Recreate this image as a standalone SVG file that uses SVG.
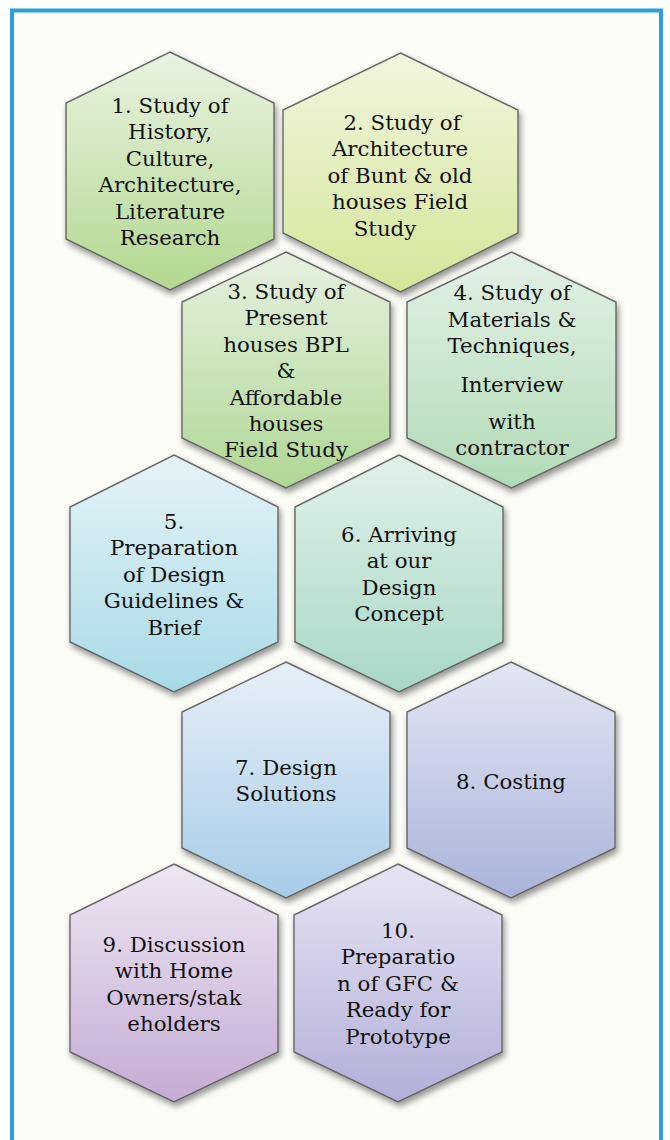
<svg xmlns="http://www.w3.org/2000/svg" width="670" height="1140" viewBox="0 0 670 1140">
<style>
.hex{stroke:#666666;stroke-width:1.4;filter:url(#sh)}
.t{font-family:"DejaVu Serif","Liberation Serif",serif;font-size:21.3px;fill:#111111;text-anchor:middle}
</style>
<defs>
<filter id="sh" x="-10%" y="-10%" width="125%" height="125%"><feDropShadow dx="2" dy="4" stdDeviation="3" flood-color="#000" flood-opacity="0.42"/></filter>
<linearGradient id="g1" x1="0" y1="0" x2="0" y2="1"><stop offset="0" stop-color="#e9f3e1"/><stop offset="1" stop-color="#b3d88f"/></linearGradient>
<linearGradient id="g2" x1="0" y1="0" x2="0" y2="1"><stop offset="0" stop-color="#f1f6dd"/><stop offset="1" stop-color="#d5e69a"/></linearGradient>
<linearGradient id="g3" x1="0" y1="0" x2="0" y2="1"><stop offset="0" stop-color="#e6f1df"/><stop offset="1" stop-color="#b0d795"/></linearGradient>
<linearGradient id="g4" x1="0" y1="0" x2="0" y2="1"><stop offset="0" stop-color="#e3f1e6"/><stop offset="1" stop-color="#b2dbb7"/></linearGradient>
<linearGradient id="g5" x1="0" y1="0" x2="0" y2="1"><stop offset="0" stop-color="#e6f3f8"/><stop offset="1" stop-color="#a7dae6"/></linearGradient>
<linearGradient id="g6" x1="0" y1="0" x2="0" y2="1"><stop offset="0" stop-color="#e1f1eb"/><stop offset="1" stop-color="#a8d8c5"/></linearGradient>
<linearGradient id="g7" x1="0" y1="0" x2="0" y2="1"><stop offset="0" stop-color="#e7eff8"/><stop offset="1" stop-color="#a7cce8"/></linearGradient>
<linearGradient id="g8" x1="0" y1="0" x2="0" y2="1"><stop offset="0" stop-color="#e4e6f3"/><stop offset="1" stop-color="#a9b4db"/></linearGradient>
<linearGradient id="g9" x1="0" y1="0" x2="0" y2="1"><stop offset="0" stop-color="#eee6f2"/><stop offset="1" stop-color="#c4acd5"/></linearGradient>
<linearGradient id="g10" x1="0" y1="0" x2="0" y2="1"><stop offset="0" stop-color="#e7e5f3"/><stop offset="1" stop-color="#b2afd9"/></linearGradient>
</defs>
<rect x="0" y="0" width="670" height="1140" fill="#ffffff"/>
<rect x="12" y="10.5" width="649" height="1200" fill="#fdfdf8" stroke="#2ba0dd" stroke-width="4"/>
<g id="connectors"></g>
<g id="node1">
<polygon class="hex" fill="url(#g1)" points="170,52 274,103 274,239 170,290 66,239 66,103"/>
<text class="t" x="170" y="113">1. Study of</text>
<text class="t" x="170" y="139.4">History,</text>
<text class="t" x="170" y="165.8">Culture,</text>
<text class="t" x="170" y="192.2">Architecture,</text>
<text class="t" x="170" y="218.6">Literature</text>
<text class="t" x="170" y="245">Research</text>
</g>
<g id="node2">
<polygon class="hex" fill="url(#g2)" points="400.5,53 518,110 518,233 400.5,292 283,233 283,110"/>
<text class="t" x="402" y="130">2. Study of</text>
<text class="t" x="400" y="156.4">Architecture</text>
<text class="t" x="400" y="182.8">of Bunt &amp; old</text>
<text class="t" x="400" y="209.2">houses Field</text>
<text class="t" x="385" y="235.6">Study</text>
</g>
<g id="node3">
<polygon class="hex" fill="url(#g3)" points="286,252 390,302 390,438 286,488 182,438 182,302"/>
<text class="t" x="286" y="299">3. Study of</text>
<text class="t" x="286" y="325.4">Present</text>
<text class="t" x="286" y="351.8">houses BPL</text>
<text class="t" x="286" y="378.2">&amp;</text>
<text class="t" x="286" y="404.6">Affordable</text>
<text class="t" x="286" y="431">houses</text>
<text class="t" x="286" y="457.4">Field Study</text>
</g>
<g id="node4">
<polygon class="hex" fill="url(#g4)" points="511.5,252 616,302 616,438 511.5,488 407,438 407,302"/>
<text class="t" x="512" y="300">4. Study of</text>
<text class="t" x="512" y="326.5">Materials &amp;</text>
<text class="t" x="512" y="353">Techniques,</text>
<text class="t" x="512" y="392">Interview</text>
<text class="t" x="512" y="429">with</text>
<text class="t" x="512" y="455">contractor</text>
</g>
<g id="node5">
<polygon class="hex" fill="url(#g5)" points="174,455 278,507 278,642 174,692 70,642 70,507"/>
<text class="t" x="174" y="529">5.</text>
<text class="t" x="174" y="555.4">Preparation</text>
<text class="t" x="174" y="581.8">of Design</text>
<text class="t" x="174" y="608.2">Guidelines &amp;</text>
<text class="t" x="174" y="634.6">Brief</text>
</g>
<g id="node6">
<polygon class="hex" fill="url(#g6)" points="399,455 503,507 503,642 399,692 295,642 295,507"/>
<text class="t" x="399" y="542">6. Arriving</text>
<text class="t" x="399" y="568.4">at our</text>
<text class="t" x="399" y="594.8">Design</text>
<text class="t" x="399" y="621.2">Concept</text>
</g>
<g id="node7">
<polygon class="hex" fill="url(#g7)" points="286,662 390,712 390,848 286,898 182,848 182,712"/>
<text class="t" x="286" y="775">7. Design</text>
<text class="t" x="286" y="801">Solutions</text>
</g>
<g id="node8">
<polygon class="hex" fill="url(#g8)" points="511,662 615,712 615,848 511,898 407,848 407,712"/>
<text class="t" x="511" y="789">8. Costing</text>
</g>
<g id="node9">
<polygon class="hex" fill="url(#g9)" points="174,864 278,915 278,1052 174,1102 70,1052 70,915"/>
<text class="t" x="174" y="952">9. Discussion</text>
<text class="t" x="174" y="978.4">with Home</text>
<text class="t" x="174" y="1004.8">Owners/stak</text>
<text class="t" x="174" y="1031.2">eholders</text>
</g>
<g id="node10">
<polygon class="hex" fill="url(#g10)" points="398,864 502,915 502,1052 398,1102 294,1052 294,915"/>
<text class="t" x="398" y="938">10.</text>
<text class="t" x="398" y="964.4">Preparatio</text>
<text class="t" x="398" y="990.8">n of GFC &amp;</text>
<text class="t" x="398" y="1017.2">Ready for</text>
<text class="t" x="398" y="1043.6">Prototype</text>
</g>
</svg>
